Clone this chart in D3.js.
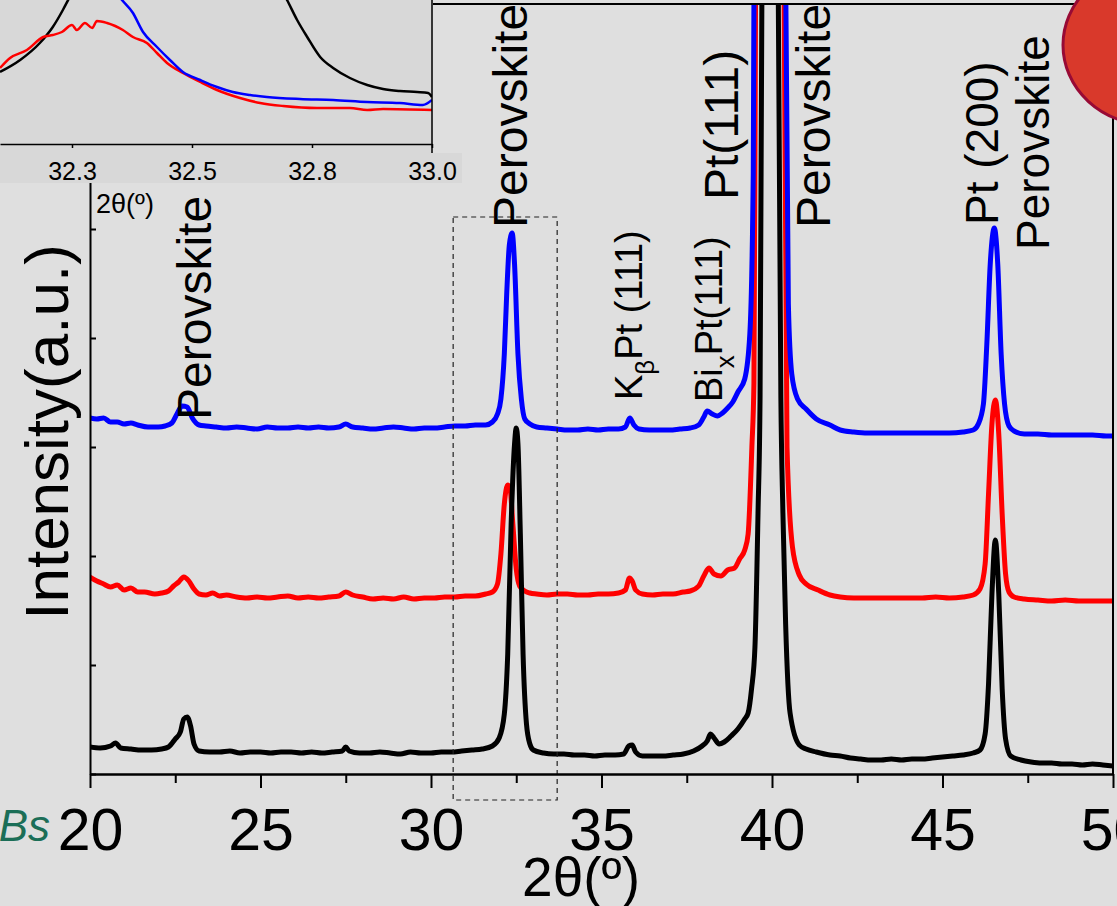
<html>
<head>
<script src="https://d3js.org/d3.v7.min.js"></script>
<style type="text/css">
    body { margin: 0; background: #dfdfdf; }
    svg text { font-family: "Liberation Sans", Arial, sans-serif; fill: #000; }
</style>
</head>
<body>
<svg id="chart" width="1117" height="906"></svg>
<script type="text/javascript">
// main pattern, [2theta, intensity a.u.]
const blackSeries = [
    [20.0,27],[20.3,26],[20.6,28],[20.75,31],[20.9,26],[21.2,25],[21.5,24],[21.8,24],[22.1,25],[22.3,27],
    [22.5,35],[22.65,42],[22.75,55],[22.85,57],[22.95,48],[23.05,30],[23.2,23],[23.5,22],[23.8,22],[24.1,23],
    [24.4,21],[24.7,22],[25.0,22],[25.3,21],[25.6,22],[25.9,22],[26.2,21],[26.5,22],[26.8,21],[27.1,22],
    [27.4,23],[27.5,27],[27.6,23],[27.9,21],[28.2,21],[28.5,22],[28.8,21],[29.1,20],[29.4,22],[29.7,21],
    [30.0,21],[30.3,22],[30.6,22],[30.9,23],[31.2,24],[31.5,25],[31.8,28],[32.0,36],[32.15,60],[32.25,120],
    [32.35,250],[32.45,330],[32.5,346],[32.55,330],[32.62,240],[32.7,120],[32.8,50],[32.9,30],[33.0,24],[33.3,21],
    [33.6,20],[33.9,20],[34.2,19],[34.5,19],[34.8,18],[35.1,19],[35.4,19],[35.65,20],[35.8,28],[35.9,29],
    [36.0,22],[36.2,18],[36.5,18],[36.8,18],[37.1,19],[37.4,20],[37.7,23],[37.95,28],[38.1,33],[38.2,40],
    [38.3,36],[38.45,30],[38.6,32],[38.8,38],[39.0,45],[39.2,55],[39.3,61],[39.4,85],[39.5,127],[39.59,261],
    [39.65,377],[39.72,900],[39.8,2200],[39.95,3500],[40.08,2000],[40.18,800],[40.26,377],[40.32,261],[40.4,150],[40.53,61],
    [40.8,29],[41.0,25],[41.3,22],[41.7,19],[42.0,18],[42.3,16],[42.6,15],[42.9,14],[43.2,14],[43.5,15],
    [43.8,14],[44.1,15],[44.4,15],[44.7,16],[45.0,17],[45.3,18],[45.6,19],[45.9,21],[46.1,24],[46.25,40],
    [46.35,90],[46.45,180],[46.55,234],[46.65,180],[46.75,85],[46.85,35],[47.0,18],[47.3,14],[47.6,12],[47.9,11],
    [48.2,11],[48.5,10],[48.8,10],[49.1,9],[49.4,10],[49.7,9],[50.0,8]
];
const redSeries = [
    [20.0,197],[20.2,193],[20.4,190],[20.6,187],[20.8,189],[21.0,184],[21.2,186],[21.4,182],[21.6,182],[21.9,180],
    [22.1,181],[22.3,183],[22.45,188],[22.6,192],[22.75,197],[22.9,193],[23.05,185],[23.2,180],[23.4,179],[23.6,181],
    [23.8,178],[24.0,179],[24.3,177],[24.6,176],[24.9,177],[25.2,176],[25.5,177],[25.8,178],[26.1,176],[26.4,177],
    [26.7,176],[27.0,177],[27.3,178],[27.5,182],[27.7,179],[28.0,177],[28.3,175],[28.6,176],[28.9,175],[29.2,177],
    [29.5,175],[29.8,176],[30.1,176],[30.4,177],[30.7,177],[31.0,178],[31.3,178],[31.6,180],[31.8,182],[31.95,190],
    [32.05,220],[32.15,270],[32.25,289],[32.32,285],[32.4,250],[32.5,205],[32.6,188],[32.75,183],[32.9,181],[33.1,180],
    [33.4,179],[33.7,180],[34.0,180],[34.3,179],[34.6,179],[34.9,180],[35.2,180],[35.5,181],[35.7,184],[35.82,196],
    [35.9,193],[36.0,184],[36.2,180],[36.5,179],[36.8,180],[37.1,180],[37.4,182],[37.6,183],[37.85,188],[38.0,198],
    [38.15,206],[38.3,200],[38.5,198],[38.7,204],[38.9,206],[39.05,215],[39.2,224],[39.3,240],[39.41,327],[39.47,391],
    [39.52,800],[39.7,2500],[40.2,2500],[40.35,800],[40.44,327],[40.6,227],[40.8,199],[41.0,190],[41.35,184],[41.7,179],
    [42.0,177],[42.4,176],[42.8,176],[43.2,176],[43.6,176],[44.0,176],[44.4,176],[44.8,177],[45.2,176],[45.6,177],
    [45.9,179],[46.1,185],[46.25,210],[46.35,280],[46.45,350],[46.55,374],[46.65,340],[46.75,260],[46.85,200],[46.95,182],
    [47.1,177],[47.4,175],[47.8,174],[48.2,173],[48.6,174],[49.0,173],[49.4,173],[49.8,173],[50.0,173]
];
const blueSeries = [
    [20.0,356],[20.2,355],[20.4,356],[20.6,352],[20.8,352],[21.0,350],[21.2,351],[21.4,349],[21.7,347],[22.0,347],
    [22.2,348],[22.4,351],[22.55,360],[22.7,368],[22.85,367],[23.0,356],[23.2,349],[23.4,348],[23.7,347],[24.0,346],
    [24.3,347],[24.6,346],[24.9,345],[25.2,347],[25.5,346],[25.8,346],[26.1,347],[26.4,346],[26.7,347],[27.0,346],
    [27.3,347],[27.5,350],[27.7,347],[28.0,346],[28.3,345],[28.6,346],[28.9,347],[29.2,346],[29.5,345],[29.8,346],
    [30.1,346],[30.4,347],[30.7,348],[31.0,348],[31.3,349],[31.6,349],[31.8,352],[31.95,360],[32.05,375],[32.15,420],
    [32.22,480],[32.3,530],[32.38,541],[32.45,510],[32.55,420],[32.65,375],[32.75,355],[32.9,350],[33.1,347],[33.4,346],
    [33.7,345],[34.0,344],[34.3,344],[34.6,345],[34.9,344],[35.2,345],[35.5,345],[35.7,347],[35.83,356],[35.95,349],
    [36.1,345],[36.4,344],[36.7,344],[37.0,344],[37.3,345],[37.6,346],[37.85,349],[38.0,357],[38.1,363],[38.25,360],
    [38.4,358],[38.55,361],[38.7,366],[38.85,372],[39.0,382],[39.2,395],[39.35,440],[39.45,600],[39.6,2000],[39.8,4000],
    [40.15,4000],[40.3,2000],[40.4,800],[40.48,470],[40.58,400],[40.75,375],[41.0,365],[41.3,355],[41.7,349],[42.0,344],
    [42.4,342],[42.8,341],[43.2,341],[43.6,341],[44.0,341],[44.4,341],[44.8,341],[45.2,341],[45.6,342],[45.9,344],
    [46.05,350],[46.2,370],[46.3,430],[46.4,510],[46.52,546],[46.62,510],[46.72,420],[46.82,370],[46.95,348],[47.1,343],
    [47.4,340],[47.8,340],[48.2,339],[48.6,339],[49.0,339],[49.4,339],[49.8,338],[50.0,338]
];

// inset (zoom of the 32.x peak)
const insetBlack = [
    [32.1,72],[32.142,84],[32.183,101],[32.21,117],[32.231,134],[32.242,144],[32.3,200],[32.4,260],[32.5,280],[32.6,240],
    [32.68,160],[32.698,144],[32.719,124],[32.74,107],[32.767,87],[32.794,76],[32.829,66],[32.865,59],[32.898,55],[32.933,53],
    [32.969,52],[32.992,51],[33.0,47]
];
const insetRed = [
    [32.1,76],[32.121,86],[32.156,94],[32.19,107],[32.21,109],[32.229,112],[32.25,119],[32.26,114],[32.277,121],[32.292,116],
    [32.302,123],[32.323,121],[32.34,118],[32.356,114],[32.377,107],[32.406,101],[32.427,91],[32.448,81],[32.481,71],[32.517,62],
    [32.552,54],[32.6,46],[32.642,41],[32.69,38],[32.76,36],[32.829,36],[32.865,34],[32.898,35],[33.0,34]
];
const insetBlue = [
    [32.3,200],[32.345,150],[32.377,131],[32.398,112],[32.427,97],[32.454,84],[32.481,72],[32.517,64],[32.552,57],[32.585,52],
    [32.621,49],[32.656,47],[32.725,45],[32.794,44],[32.865,42],[32.933,41],[32.981,39],[33.0,44]
];

const xMajorTicks = [20, 25, 30, 35, 40, 45, 50];
const xMinorTicks = [22.5, 27.5, 32.5, 37.5, 42.5, 47.5];
const yTicks = [0, 109, 218, 327, 436, 545, 654, 763];
const insetTicks = [32.25, 32.5, 32.75, 33.0];
const insetTickLabels = ["32.3", "32.5", "32.8", "33.0"];

// zoom box drawn on the main chart: [2theta from, 2theta to, a.u. low, a.u. high]
const zoomBox = [30.65, 33.7, -26, 557];

// peak labels: parts [text, "sub" or ""], 2theta, a.u. level, font size
const peakLabels = [
    { parts: [["Perovskite", ""]], t: 23.55, v: 354, size: 48 },
    { parts: [["Perovskite", ""]], t: 32.82, v: 546, size: 48 },
    { parts: [["K", ""], ["\u03b2", "sub"], ["Pt (111)", ""]], t: 36.19, v: 374, size: 38 },
    { parts: [["Bi", ""], ["x", "sub"], ["Pt(111)", ""]], t: 38.53, v: 372, size: 38 },
    { parts: [["Pt(111)", ""]], t: 39.0, v: 574, size: 48 },
    { parts: [["Perovskite", ""]], t: 41.7, v: 546, size: 48 },
    { parts: [["Pt (200)", ""]], t: 46.63, v: 549, size: 46 },
    { parts: [["Perovskite", ""]], t: 48.12, v: 524, size: 46 }
];

const svg = d3.select("#chart");
const W = 1117, H = 906;

svg.append("rect").attr("width", W).attr("height", H).attr("fill", "#dfdfdf");

const x = d3.scaleLinear().domain([20, 50]).range([90, 1113]);
const y = d3.scaleLinear().domain([0, 770]).range([774, 4]);

const defs = svg.append("defs");
defs.append("clipPath").attr("id", "plotClip").append("rect")
    .attr("x", x(20)).attr("y", y(770))
    .attr("width", x(50) - x(20)).attr("height", y(0) - y(770));

const line = d3.line().x(d => x(d[0])).y(d => y(d[1])).curve(d3.curveMonotoneX);

const plot = svg.append("g").attr("clip-path", "url(#plotClip)");
[[redSeries, "#ff0000"], [blueSeries, "#0000ff"], [blackSeries, "#000000"]].forEach(([s, c]) => {
    plot.append("path").datum(s)
        .attr("d", line)
        .attr("fill", "none")
        .attr("stroke", c)
        .attr("stroke-width", 5)
        .attr("stroke-linejoin", "round");
});

// dashed zoom box
svg.append("rect")
    .attr("x", x(zoomBox[0])).attr("y", y(zoomBox[3]))
    .attr("width", x(zoomBox[1]) - x(zoomBox[0]))
    .attr("height", y(zoomBox[2]) - y(zoomBox[3]))
    .attr("fill", "none").attr("stroke", "#222")
    .attr("stroke-width", 1.2).attr("stroke-dasharray", "5,4");

// axes
const xAxis = svg.append("g").attr("transform", `translate(0,${y(0)})`)
    .call(d3.axisBottom(x).tickValues(xMajorTicks).tickSize(14).tickSizeOuter(0).tickPadding(20));
xAxis.select(".domain").attr("stroke-width", 2.5);
xAxis.selectAll(".tick line").attr("stroke-width", 2);
xAxis.selectAll("text").attr("font-size", 59).attr("font-family", null);

const xMinor = svg.append("g").attr("transform", `translate(0,${y(0)})`)
    .call(d3.axisBottom(x).tickValues(xMinorTicks).tickSize(9).tickSizeOuter(0).tickFormat(""));
xMinor.select(".domain").remove();
xMinor.selectAll(".tick line").attr("stroke-width", 2);

const yAxis = svg.append("g").attr("transform", `translate(${x(20)},0)`)
    .call(d3.axisLeft(y).tickValues(yTicks).tickSize(-6).tickSizeOuter(0).tickFormat(""));
yAxis.select(".domain").attr("stroke-width", 2);
yAxis.selectAll(".tick line").attr("stroke-width", 2);

svg.append("line").attr("x1", x(20)).attr("x2", x(50)).attr("y1", y(770)).attr("y2", y(770))
    .attr("stroke", "#000").attr("stroke-width", 2);
svg.append("line").attr("x1", x(50)).attr("x2", x(50)).attr("y1", y(770)).attr("y2", y(0))
    .attr("stroke", "#000").attr("stroke-width", 2);

// axis titles
svg.append("text").attr("x", 581).attr("y", 896).attr("text-anchor", "middle")
    .attr("font-size", 55).text("2\u03b8(\u00ba)");
svg.append("text").attr("transform", "translate(68,432) rotate(-90)").attr("text-anchor", "middle")
    .attr("font-size", 62).text("Intensity(a.u.)");

// peak labels
peakLabels.forEach(p => {
    const t = svg.append("text")
        .attr("transform", `translate(${x(p.t)},${y(p.v)}) rotate(-90)`)
        .attr("font-size", p.size);
    let shifted = false;
    p.parts.forEach(([txt, kind]) => {
        const ts = t.append("tspan").text(txt);
        if (kind === "sub") {
            ts.attr("font-size", p.size * 0.68).attr("dy", p.size * 0.32);
            shifted = true;
        } else if (shifted) {
            ts.attr("dy", -p.size * 0.32);
            shifted = false;
        }
    });
});

// inset
const ix = d3.scaleLinear().domain([32.1, 33.0]).range([0, 432]);
const iy = d3.scaleLinear().domain([0, 144]).range([144, 0]);
const inset = svg.append("g");
inset.append("rect").attr("x", -10).attr("y", 0).attr("width", ix(33.0) + 11).attr("height", 153).attr("fill", "#d8d8d8");
inset.append("rect").attr("x", -10).attr("y", 153).attr("width", ix(33.0) + 40).attr("height", 30).attr("fill", "#d8d8d8");

defs.append("clipPath").attr("id", "insetClip").append("rect")
    .attr("x", ix(32.1) - 10).attr("y", iy(144)).attr("width", ix(33.0) - ix(32.1) + 10).attr("height", iy(0) - iy(144));

const iline = d3.line().x(d => ix(d[0])).y(d => iy(d[1])).curve(d3.curveMonotoneX);
const iplot = inset.append("g").attr("clip-path", "url(#insetClip)");
[[insetBlack, "#000000"], [insetRed, "#ff0000"], [insetBlue, "#0000ff"]].forEach(([s, c]) => {
    iplot.append("path").datum(s)
        .attr("d", iline)
        .attr("fill", "none")
        .attr("stroke", c)
        .attr("stroke-width", 2.5)
        .attr("stroke-linejoin", "round");
});

const iAxis = inset.append("g").attr("transform", `translate(0,${iy(0)})`)
    .call(d3.axisBottom(ix).tickValues(insetTicks).tickSize(4).tickSizeOuter(0).tickPadding(14)
        .tickFormat((d, i) => insetTickLabels[i]));
iAxis.select(".domain").attr("stroke-width", 1.5);
iAxis.selectAll(".tick line").attr("stroke-width", 1.5);
iAxis.selectAll("text").attr("font-size", 25).attr("font-family", null);
inset.append("line").attr("x1", ix(33.0)).attr("x2", ix(33.0)).attr("y1", 0).attr("y2", 153)
    .attr("stroke", "#000").attr("stroke-width", 1.5);

// small axis name for the inset
svg.append("text").attr("x", 96).attr("y", 213).attr("font-size", 27).text("2\u03b8(\u00ba)");

// decoration cut by the crop
svg.append("ellipse").attr("cx", 1150).attr("cy", 45).attr("rx", 87).attr("ry", 80)
    .attr("fill", "#d9392b").attr("stroke", "#980a35").attr("stroke-width", 3);
svg.append("text").attr("x", 50).attr("y", 841).attr("text-anchor", "end")
    .attr("font-size", 44).attr("font-style", "italic")
    .style("fill", "#1b6e57").text("Bs");
</script>
</body>
</html>
